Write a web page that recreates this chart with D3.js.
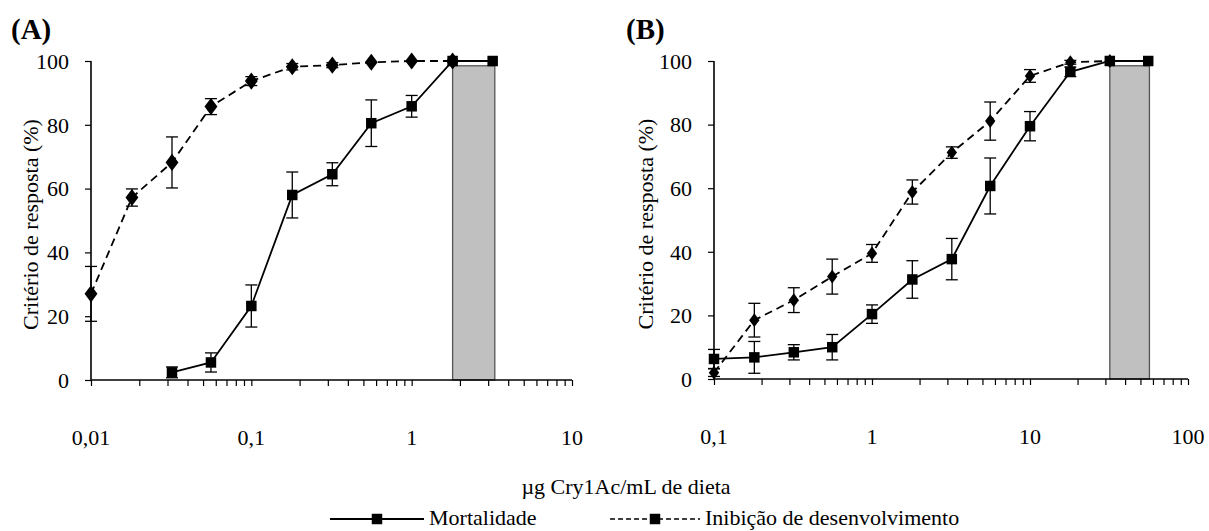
<!DOCTYPE html>
<html><head><meta charset="utf-8">
<script src="https://cdn.jsdelivr.net/npm/d3@7"></script>
<style>
body{margin:0;background:#fff;}
text{font-family:"Liberation Serif","Times New Roman",serif;fill:#000;}
</style></head>
<body><svg id="c" width="1209" height="531"></svg>
<script>
// ---- Data ----
const concA = [0.01, 0.018, 0.032, 0.056, 0.1, 0.18, 0.32, 0.56, 1, 1.8, 3.2];
const mortA = [null, null, 2.4, 5.5, 23.2, 58, 64.5, 80.5, 85.8, 100, 100];
const mortAErr = [0, 0, 1.7, 3, 6.6, 7.2, 3.6, 7.3, 3.4, 0, 0];
const inibA = [27, 57.2, 68.2, 85.7, 93.7, 98.2, 98.7, 99.6, 100, 100, null];
const inibAErr = [8.6, 2.7, 8, 2.5, 1.4, 1, 0.8, 0, 0, 0, 0];
const barA = [1.8, 3.3, 98.5]; // x from, x to, height

const concB = [0.1, 0.18, 0.32, 0.56, 1, 1.8, 3.2, 5.6, 10, 18, 32, 56];
const mortB = [6.3, 6.8, 8.4, 10, 20.4, 31.3, 37.7, 60.7, 79.5, 96.6, 100, 100];
const mortBErr = [3, 5, 2.4, 4, 2.9, 5.9, 6.5, 8.8, 4.6, 1.5, 0, 0];
const inibB = [2, 18.5, 24.8, 32.2, 39.5, 58.8, 71.2, 81.1, 95.3, 99.6, 100, null];
const inibBErr = [1.2, 5.3, 3.9, 5.5, 2.8, 3.8, 1.8, 6, 2, 0.6, 0, 0];
const barB = [32, 57, 98.5];

const yTicks = [0, 20, 40, 60, 80, 100];
const xTicksA = [0.01, 0.1, 1, 10];
const xTicksB = [0.1, 1, 10, 100];
const fmt = d => String(d).replace('.', ',');

const svg = d3.select('#c');
const FS = 22;

function panel(o) {
  const x = d3.scaleLog().domain(o.xDomain).range([o.x0, o.x1]);
  const y = d3.scaleLinear().domain([0, 100]).range([o.y0, o.y1]);
  const g = svg.append('g');

  // gray bar
  g.append('rect')
    .attr('x', x(o.bar[0])).attr('width', x(o.bar[1]) - x(o.bar[0]))
    .attr('y', y(o.bar[2])).attr('height', y(0) - y(o.bar[2]))
    .attr('fill', '#c0c0c0').attr('stroke', '#555').attr('stroke-width', 1.3);

  // minor ticks
  const lo = Math.log10(o.xDomain[0]), hi = Math.log10(o.xDomain[1]);
  const minor = [];
  for (let e = lo; e < hi; e++) for (let k = 1; k <= 9; k++) minor.push(k * Math.pow(10, e));
  minor.push(o.xDomain[1]);
  const xAxis = d3.axisBottom(x).tickValues(minor).tickSize(6).tickFormat('');
  const xa = g.append('g').attr('transform', `translate(0,${o.y0})`).call(xAxis);
  xa.select('.domain').attr('stroke', '#000').attr('stroke-width', 1.6).attr('d', `M${o.x0},0H${o.x1}`);
  xa.selectAll('.tick line').attr('stroke', '#000').attr('stroke-width', 1.2);
  g.selectAll('.xl').data(o.xTicks).enter().append('text')
    .attr('x', d => x(d)).attr('y', o.y0 + 65).attr('text-anchor', 'middle')
    .style('font-size', FS + 'px').text(fmt);

  const yAxis = d3.axisLeft(y).tickValues(yTicks).tickSize(6).tickFormat('');
  const ya = g.append('g').attr('transform', `translate(${o.x0},0)`).call(yAxis);
  ya.select('.domain').attr('stroke', '#000').attr('stroke-width', 1.6).attr('d', `M0,${o.y0}V${o.y1}`);
  ya.selectAll('.tick line').attr('stroke', '#000').attr('stroke-width', 1.2);
  g.selectAll('.yl').data(yTicks).enter().append('text')
    .attr('x', o.x0 - 22).attr('y', d => y(d)).attr('dy', '0.35em').attr('text-anchor', 'end')
    .style('font-size', FS + 'px').text(d => d);

  g.append('text').attr('transform', `translate(${o.titleX},${(o.y0 + o.y1) / 2 + 4}) rotate(-90)`)
    .attr('text-anchor', 'middle').style('font-size', FS + 'px').text('Critério de resposta (%)');
  g.append('text').attr('x', o.labX).attr('y', 39).style('font-size', '29px').style('font-weight', 'bold').text(o.label);

  function series(vals, errs, dashed, marker, msize) {
    const pts = o.conc.map((c, i) => ({c, v: vals[i], e: errs[i]})).filter(p => p.v != null);
    const eb = g.append('g').attr('stroke', '#000').attr('stroke-width', 1.3);
    pts.filter(p => p.e > 0).forEach(p => {
      const cx = x(p.c);
      eb.append('line').attr('x1', cx).attr('x2', cx).attr('y1', y(p.v + p.e)).attr('y2', y(p.v - p.e));
      eb.append('line').attr('x1', cx - 6).attr('x2', cx + 6).attr('y1', y(p.v + p.e)).attr('y2', y(p.v + p.e));
      eb.append('line').attr('x1', cx - 6).attr('x2', cx + 6).attr('y1', y(p.v - p.e)).attr('y2', y(p.v - p.e));
    });
    g.append('path').datum(pts)
      .attr('d', d3.line().x(p => x(p.c)).y(p => y(p.v)))
      .attr('fill', 'none').attr('stroke', '#000').attr('stroke-width', 1.8)
      .attr('stroke-dasharray', dashed ? '8,5' : null);
    const sym = d3.symbol().type(marker).size(msize);
    g.selectAll(null).data(pts).enter().append('path')
      .attr('d', sym).attr('transform', p => `translate(${x(p.c)},${y(p.v)})` + (marker === d3.symbolDiamond ? ' scale(1.3,1)' : ''))
      .attr('fill', '#000');
  }
  series(o.inib, o.inibErr, true, d3.symbolDiamond, o.dsize);
  series(o.mort, o.mortErr, false, d3.symbolSquare, 110);
}

panel({x0: 91, x1: 572, y0: 380, y1: 61, xDomain: [0.01, 10], xTicks: xTicksA,
  conc: concA, mort: mortA, mortErr: mortAErr, inib: inibA, inibErr: inibAErr, bar: barA,
  titleX: 38, labX: 11, label: '(A)', dsize: 85});
panel({x0: 714, x1: 1188, y0: 379, y1: 61, xDomain: [0.1, 100], xTicks: xTicksB,
  conc: concB, mort: mortB, mortErr: mortBErr, inib: inibB, inibErr: inibBErr, bar: barB,
  titleX: 653, labX: 626, label: '(B)', dsize: 55});

// x title
svg.append('text').attr('x', 626).attr('y', 494).attr('text-anchor', 'middle')
  .style('font-size', FS + 'px').text('µg Cry1Ac/mL de dieta');

// legend
const legendItems = [
  {label: 'Mortalidade', x1: 330, x2: 424, dash: null, w: 2},
  {label: 'Inibição de desenvolvimento', x1: 610, x2: 700, dash: '5,3', w: 1.5}
];
const ly = 519;
legendItems.forEach(it => {
  svg.append('line').attr('x1', it.x1).attr('x2', it.x2).attr('y1', ly).attr('y2', ly)
    .attr('stroke', '#000').attr('stroke-width', it.w).attr('stroke-dasharray', it.dash);
  const mx = (it.x1 + it.x2) / 2;
  svg.append('path').attr('d', d3.symbol().type(d3.symbolSquare).size(110)())
    .attr('transform', `translate(${mx},${ly})`).attr('fill', '#000');
  svg.append('text').attr('x', it.x2 + 5).attr('y', ly + 6).style('font-size', FS + 'px').text(it.label);
});
</script></body></html>
